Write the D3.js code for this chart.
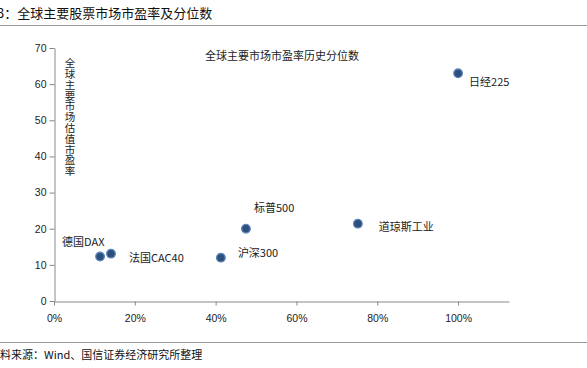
<!DOCTYPE html>
<html>
<head>
<meta charset="utf-8">
<script src="https://cdn.jsdelivr.net/npm/d3@7"></script>
<style>
  body { margin: 0; background: #fff; }
  svg { display: block; font-family: "Noto Sans CJK SC", sans-serif; }
</style>
</head>
<body>
<svg id="chart" width="587" height="368"></svg>
<script>
// index names, percentile (x) and P/E (y)
var names = ["日经225", "道琼斯工业", "标普500", "沪深300", "德国DAX", "法国CAC40"];
var pct = [1.00, 0.752, 0.475, 0.413, 0.114, 0.141];
var pe = [63.0, 21.4, 20.0, 12.0, 12.3, 13.1];
var xTicks = [0, 0.2, 0.4, 0.6, 0.8, 1.0];
var yTicks = [0, 10, 20, 30, 40, 50, 60, 70];
// label offsets relative to the point (left edge, vertical middle)
var lblDx = [11, 21, 8, 17, -38, 18];
var lblDy = [10, 4, -20, -4, -14, 5];

var svg = d3.select("#chart");

svg.append("text").attr("x", -3).attr("y", 18)
    .attr("font-size", 13).attr("fill", "#111")
    .text("3：全球主要股票市场市盈率及分位数");
svg.append("line").attr("x1", 0).attr("x2", 587).attr("y1", 25.5).attr("y2", 25.5)
    .attr("stroke", "#999").attr("stroke-width", 1);

svg.append("line").attr("x1", 0).attr("x2", 587).attr("y1", 342.5).attr("y2", 342.5)
    .attr("stroke", "#999").attr("stroke-width", 1);
svg.append("text").attr("x", 0).attr("y", 359)
    .attr("font-size", 11).attr("fill", "#111")
    .text("料来源：Wind、国信证券经济研究所整理");

var x = d3.scaleLinear().domain([0, 1.126]).range([54, 509]);
var y = d3.scaleLinear().domain([0, 70]).range([301, 48]);

var xAxis = svg.append("g").attr("transform", "translate(0,301.5)")
    .call(d3.axisBottom(x).tickValues(xTicks).tickFormat(d3.format(".0%")).tickSize(4).tickSizeOuter(0));
var yAxis = svg.append("g").attr("transform", "translate(54.5,0)")
    .call(d3.axisLeft(y).tickValues(yTicks).tickSize(5).tickSizeOuter(0));

[xAxis, yAxis].forEach(function(a){
    a.select(".domain").attr("stroke", "#888");
    a.selectAll(".tick line").attr("stroke", "#888");
    a.selectAll("text").attr("font-family", "Liberation Sans, Arial, sans-serif")
	.attr("font-size", 10.5).attr("fill", "#222");
});
xAxis.selectAll("text").attr("dy", "1.3em");

// vertical y axis title, one text written top to bottom
svg.append("text")
    .attr("x", 70).attr("y", 58)
    .style("writing-mode", "vertical-rl").style("text-orientation", "upright")
    .attr("letter-spacing", 0.3)
    .attr("font-size", 10.5).attr("fill", "#222")
    .text("全球主要市场估值市盈率");

svg.append("text").attr("x", 282).attr("y", 57)
    .attr("text-anchor", "middle").attr("dominant-baseline", "middle")
    .attr("font-size", 11).attr("fill", "#222")
    .text("全球主要市场市盈率历史分位数");

var pts = svg.append("g").selectAll("g").data(names).enter().append("g");
pts.append("circle")
    .attr("cx", function(d, i){ return x(pct[i]); })
    .attr("cy", function(d, i){ return y(pe[i]); })
    .attr("r", 4.3)
    .attr("fill", "#2e4f7c").attr("stroke", "#5b86bd").attr("stroke-width", 1.3);
pts.append("text")
    .attr("x", function(d, i){ return x(pct[i]) + lblDx[i]; })
    .attr("y", function(d, i){ return y(pe[i]) + lblDy[i]; })
    .attr("dominant-baseline", "middle")
    .attr("font-size", 11).attr("fill", "#222")
    .text(function(d){ return d; });
</script>
</body>
</html>
